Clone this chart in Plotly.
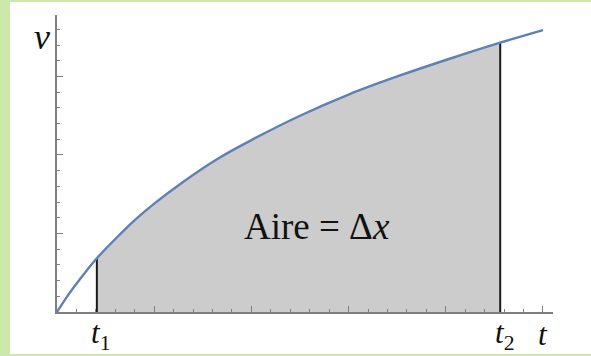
import plotly.graph_objects as go

# --------- DATA -------------------------------
t_vals = [0, 0.1, 0.2, 0.3, 0.41, 0.6, 0.8, 1.0, 1.3, 1.65, 2.0, 2.5, 3.0, 3.5, 4.0, 4.56, 5.0]
v_vals = [0, 0.19, 0.36, 0.52, 0.685, 0.93, 1.17, 1.38, 1.66, 1.95, 2.19, 2.50, 2.77, 3.00, 3.21, 3.43, 3.59]

t1 = 0.41
t2 = 4.56
bound_labels = ["<i>t</i><sub>1</sub>", "<i>t</i><sub>2</sub>"]
area_label = "Aire = Δ<i>x</i>"

SERIF = "Liberation Serif, Times New Roman, serif"
CURVE = "#5e81b5"
AXIS = "#7f7f7f"

i1 = t_vals.index(t1)
i2 = t_vals.index(t2)

fig = go.Figure()

# shaded area between t1 and t2
fig.add_trace(go.Scatter(
    x=t_vals[i1:i2 + 1], y=v_vals[i1:i2 + 1],
    mode="lines", line=dict(width=0, shape="spline", smoothing=1),
    fill="tozeroy", fillcolor="#cccccc", hoverinfo="skip",
))

# vertical bounds
for i in (i1, i2):
    fig.add_trace(go.Scatter(
        x=[t_vals[i], t_vals[i]], y=[0, v_vals[i]],
        mode="lines", line=dict(color="#1a1a1a", width=2),
    ))

# velocity curve
fig.add_trace(go.Scatter(
    x=t_vals, y=v_vals, mode="lines",
    line=dict(color=CURVE, width=2.4, shape="spline", smoothing=1),
    cliponaxis=False,
))

# labels
for tv, lab in zip((t1, t2), bound_labels):
    fig.add_annotation(x=tv, y=0, text=lab, showarrow=False,
                       yanchor="top", yshift=-1, xshift=4,
                       font=dict(family=SERIF, size=31, color="#111"))
fig.add_annotation(x=5.0, y=0, text="<i>t</i>", showarrow=False,
                   yanchor="top", yshift=-3,
                   font=dict(family=SERIF, size=31, color="#111"))
fig.add_annotation(x=0, xref="paper", y=3.5, text="<i>v</i>", showarrow=False,
                   xanchor="right", xshift=-5,
                   font=dict(family=SERIF, size=36, color="#111"))
fig.add_annotation(x=2.68, y=1.09, text=area_label, showarrow=False,
                   font=dict(family=SERIF, size=37, color="#111"))

# white card on a green frame
fig.add_shape(type="rect", xref="paper", yref="paper",
              x0=-0.0948, x1=1.08, y0=-0.1414, y1=1.0438,
              fillcolor="white", line=dict(width=0), layer="below")

axis_common = dict(
    showgrid=False, zeroline=False, showline=True, linecolor=AXIS, linewidth=1.5,
    ticks="inside", tickcolor=AXIS, tickwidth=1.2, showticklabels=False,
    tick0=0, dtick=1, fixedrange=True,
)
fig.update_xaxes(range=[0, 5.103], ticklen=6,
                 minor=dict(dtick=0.2, ticks="inside", ticklen=3, tickcolor=AXIS, tickwidth=1.2),
                 **axis_common)
fig.update_yaxes(range=[0, 3.783], ticklen=6,
                 minor=dict(dtick=0.2, ticks="inside", ticklen=3, tickcolor=AXIS, tickwidth=1.2),
                 **axis_common)

fig.update_layout(
    width=591, height=356,
    margin=dict(l=57, r=38, t=15, b=44),
    paper_bgcolor="#cce8aa", plot_bgcolor="rgba(0,0,0,0)",
    showlegend=False,
)

# drop the default page margin so the figure sits at the window corner
fig.write_html("out.html", config={"displayModeBar": False},
               post_script="document.body.style.margin='0';")
